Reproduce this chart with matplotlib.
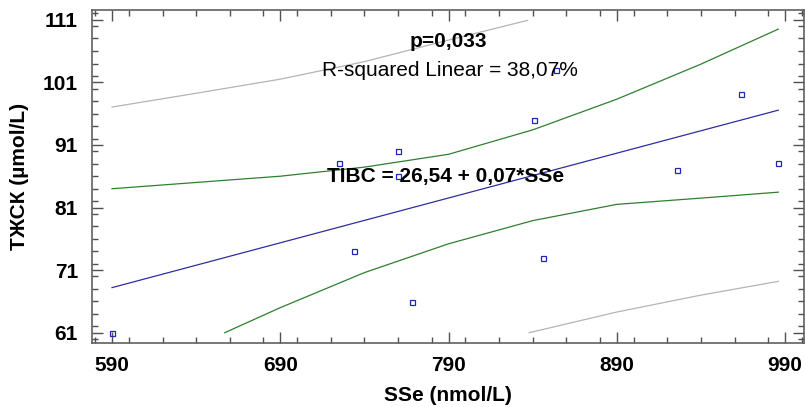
import matplotlib
matplotlib.use("Agg")
import matplotlib.pyplot as plt
from matplotlib.ticker import MultipleLocator

plt.rcParams['font.family'] = ['Liberation Sans', 'DejaVu Sans']

# observed points
sse = [590, 725, 734, 760, 760, 768, 841, 846, 854, 926, 964, 986]
tibc = [60.9, 88.1, 74.0, 90.1, 86.1, 65.9, 95.0, 72.9, 103.0, 87.0, 99.1, 88.1]

# fitted line
fit_x = [590, 986]
fit_y = [68.2, 96.55]

# confidence band for the mean (green)
ci_up_x = [590, 640, 690, 740, 790, 840, 890, 940, 986]
ci_up_y = [84.0, 85.0, 86.0, 87.45, 89.5, 93.4, 98.3, 103.9, 109.5]
ci_lo_x = [657, 690, 740, 790, 840, 890, 940, 986]
ci_lo_y = [61.0, 65.0, 70.6, 75.2, 78.9, 81.5, 82.5, 83.45]

# prediction band (gray)
pi_up_x = [590, 640, 690, 740, 790, 837]
pi_up_y = [97.05, 99.25, 101.5, 104.3, 107.75, 110.9]
pi_lo_x = [838, 890, 940, 986]
pi_lo_y = [61.0, 64.3, 67.0, 69.2]

xticks = [590, 690, 790, 890, 990]
yticks = [61, 71, 81, 91, 101, 111]

fig = plt.figure(figsize=(8.05, 4.07), dpi=100)
ax = fig.add_axes([0.1143, 0.1572, 0.8845, 0.8182])

ax.plot(pi_up_x, pi_up_y, color='#b4b4b4', lw=0.9)
ax.plot(pi_lo_x, pi_lo_y, color='#b4b4b4', lw=0.9)
ax.plot(ci_up_x, ci_up_y, color='#2f7f2f', lw=0.9)
ax.plot(ci_lo_x, ci_lo_y, color='#2f7f2f', lw=0.9)
ax.plot(fit_x, fit_y, color='#2e2ea0', lw=0.9)
ax.plot(sse, tibc, ls='none', marker='s', ms=3.6, mfc='none',
        mec='#2424b8', mew=0.9)

ax.text(790, 106.6, 'p=0,033', ha='center', va='baseline',
        fontsize=15, fontweight='bold')
ax.text(791, 102.0, 'R-squared Linear = 38,07%', ha='center', va='baseline',
        fontsize=15)
ax.text(717.5, 85.15, 'TIBC = 26,54 + 0,07*SSe', ha='left', va='baseline',
        fontsize=15, fontweight='bold')

ax.set_xlim(578.1, 1001.3)
ax.set_ylim(59.35, 112.55)
ax.set_xticks(xticks)
ax.set_yticks(yticks)
ax.xaxis.set_minor_locator(MultipleLocator(20))
ax.yaxis.set_minor_locator(MultipleLocator(2))
ax.tick_params(which='both', direction='in', top=True, right=True,
               color='#505050', width=1.0)
ax.tick_params(which='major', length=8)
ax.tick_params(which='minor', length=4.5)
ax.tick_params(axis='x', which='major', pad=9, labelsize=15)
ax.tick_params(axis='y', which='major', pad=10, labelsize=15)
for lab in ax.get_xticklabels() + ax.get_yticklabels():
    lab.set_fontweight('bold')
for sp in ax.spines.values():
    sp.set_color('#606060')
    sp.set_linewidth(1.2)

ax.set_xlabel('SSe (nmol/L)', fontsize=15, fontweight='bold', labelpad=8)
ax.set_ylabel('ТЖСК (µmol/L)', fontsize=15, fontweight='bold', labelpad=10)

fig.savefig('out.png', dpi=100)
